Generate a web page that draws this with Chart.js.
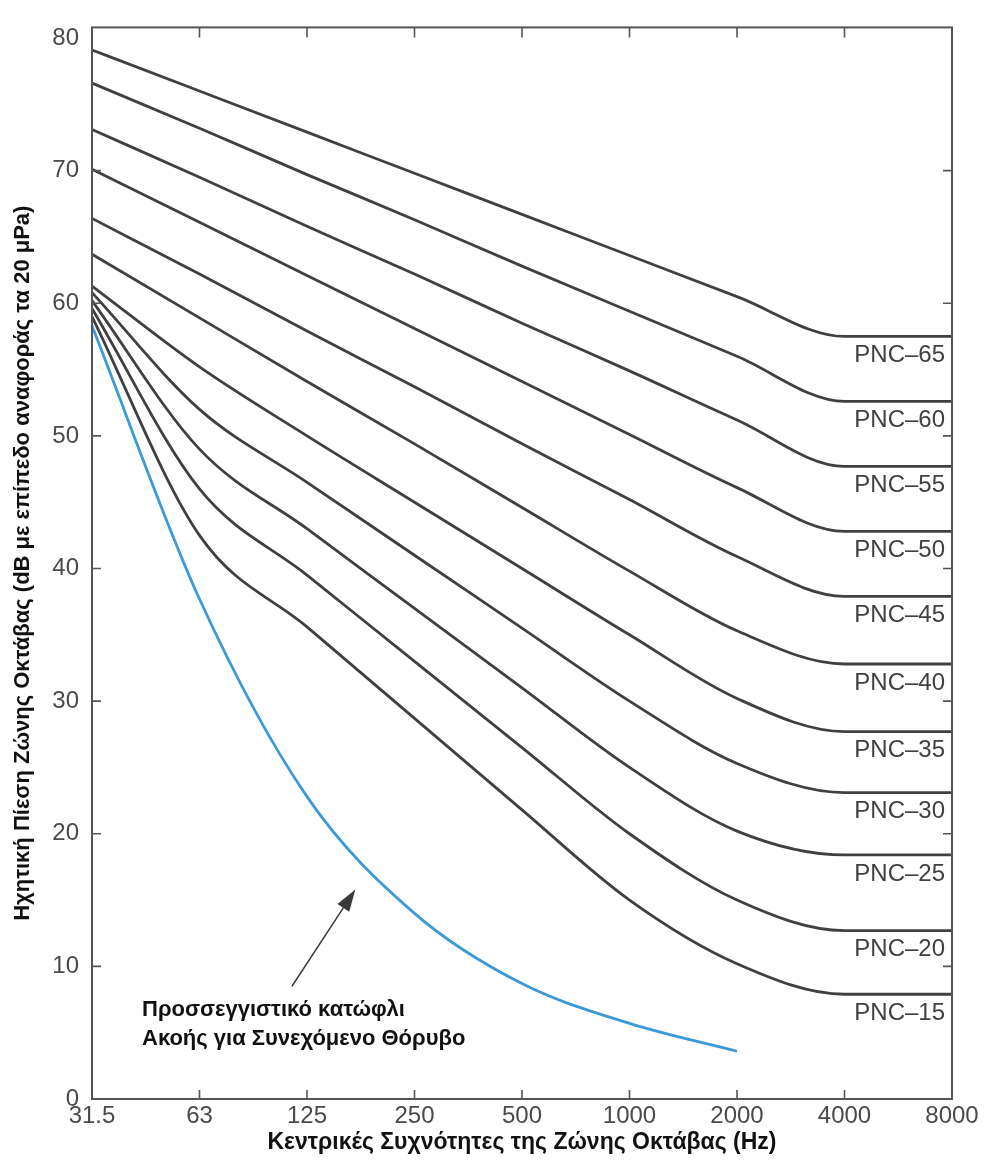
<!DOCTYPE html>
<html>
<head>
<meta charset="utf-8">
<script src="https://cdn.jsdelivr.net/npm/chart.js@4.4.1/dist/chart.umd.min.js"></script>
<style>
  html, body { margin: 0; padding: 0; background: #fff; }
  #wrap { width: 987px; height: 1160px; position: relative; }
</style>
</head>
<body>
<div id="wrap"><canvas id="pncChart"></canvas></div>
<script>
// Κεντρικές συχνότητες ζώνης οκτάβας (Hz)
const freqLabels = ['31.5', '63', '125', '250', '500', '1000', '2000', '4000', '8000'];

// Καμπύλες PNC (dB), τιμές από το διάγραμμα
const pnc65 = [79.1, 76.0, 72.9, 69.8, 66.7, 63.6, 60.5, 57.5, 57.5];
const pnc60 = [76.6, 73.2, 69.7, 66.3, 62.8, 59.4, 56.0, 52.6, 52.6];
const pnc55 = [73.1, 69.5, 65.8, 62.2, 58.5, 54.9, 51.2, 47.7, 47.7];
const pnc50 = [70.1, 66.1, 62.1, 58.1, 54.1, 50.1, 46.1, 42.8, 42.8];
const pnc45 = [66.4, 62.2, 57.9, 53.7, 49.4, 45.2, 40.9, 37.9, 37.9];
const pnc40 = [63.7, 58.9, 54.1, 49.4, 44.6, 39.8, 35.3, 32.8, 32.8];
const pnc35 = [61.3, 55.2, 50.0, 45.0, 40.0, 35.0, 30.2, 27.7, 27.7];
const pnc30 = [60.8, 52.0, 46.5, 41.0, 35.5, 30.0, 25.3, 23.1, 23.1];
const pnc25 = [60.2, 49.0, 43.0, 37.0, 31.0, 25.0, 20.2, 18.4, 18.4];
const pnc20 = [59.6, 46.0, 39.5, 33.0, 26.5, 20.0, 15.0, 12.7, 12.7];
const pnc15 = [59.0, 42.5, 35.6, 28.7, 21.8, 15.0, 10.2, 7.9, 7.9];

// Προσεγγιστικό κατώφλι ακοής (μπλε καμπύλη, σταματά στα 2000 Hz)
const threshold = [58.3, 37.7, 22.8, 14.0, 8.7, 5.7, 3.6, null, null];

const pncNames = ['PNC–65', 'PNC–60', 'PNC–55', 'PNC–50', 'PNC–45', 'PNC–40',
                  'PNC–35', 'PNC–30', 'PNC–25', 'PNC–20', 'PNC–15'];
const pncSeries = [pnc65, pnc60, pnc55, pnc50, pnc45, pnc40, pnc35, pnc30, pnc25, pnc20, pnc15];

const yTickValues = [0, 10, 20, 30, 40, 50, 60, 70, 80];

const noteLines = ['Προσσεγγιστικό κατώφλι', 'Ακοής για Συνεχόμενο Θόρυβο'];

const FONT = '"Liberation Sans", Arial, sans-serif';
const GRAY = '#404040';
const BLUE = '#3c9ad9';
const AXIS = '#555555';
const TICK_TXT = '#4a4a4a';

// Πλαίσιο με εσωτερικές υποδιαιρέσεις, ετικέτες PNC και βέλος σχολίου
const decorPlugin = {
    id: 'decor',
    afterDraw(chart) {
        const ctx = chart.ctx;
        const a = chart.chartArea;
        const xs = chart.scales.x;
        const ys = chart.scales.y;

        ctx.save();
        ctx.strokeStyle = AXIS;
        ctx.lineWidth = 2;
        ctx.strokeRect(a.left, a.top, a.right - a.left, a.bottom - a.top);

        // υποδιαιρέσεις προς τα μέσα
        ctx.lineWidth = 1.6;
        ctx.beginPath();
        yTickValues.slice(1, -1).forEach(v => {
            const py = ys.getPixelForValue(v);
            ctx.moveTo(a.left, py); ctx.lineTo(a.left + 9, py);
            ctx.moveTo(a.right, py); ctx.lineTo(a.right - 9, py);
        });
        freqLabels.forEach((f, i) => {
            if (i === 0 || i === freqLabels.length - 1) return;
            const px = xs.getPixelForValue(i);
            ctx.moveTo(px, a.bottom); ctx.lineTo(px, a.bottom - 9);
            ctx.moveTo(px, a.top); ctx.lineTo(px, a.top + 10);
        });
        ctx.stroke();

        // ετικέτες PNC κάτω από το οριζόντιο τμήμα κάθε καμπύλης
        ctx.fillStyle = GRAY;
        ctx.font = '24px ' + FONT;
        ctx.textAlign = 'right';
        ctx.textBaseline = 'middle';
        const last = freqLabels.length - 1;
        pncSeries.forEach((s, i) => {
            const py = ys.getPixelForValue(s[last]);
            ctx.fillText(pncNames[i], a.right - 7, py + 19);
        });

        // σχόλιο για το κατώφλι ακοής
        ctx.fillStyle = '#111';
        ctx.font = 'bold 22px ' + FONT;
        ctx.textAlign = 'left';
        const tx = xs.getPixelForValue(0.465);
        const ty = ys.getPixelForValue(6.7);
        noteLines.forEach((t, k) => ctx.fillText(t, tx, ty + k * 29));

        // βέλος
        const x0 = xs.getPixelForValue(1.86), y0 = ys.getPixelForValue(8.5);
        const x1 = xs.getPixelForValue(2.45), y1 = ys.getPixelForValue(15.8);
        const ang = Math.atan2(y1 - y0, x1 - x0);
        const headLen = 22, headW = 7;
        const bx = x1 - headLen * Math.cos(ang), by = y1 - headLen * Math.sin(ang);
        ctx.strokeStyle = '#3a3a3a';
        ctx.lineWidth = 1.5;
        ctx.beginPath();
        ctx.moveTo(x0, y0);
        ctx.lineTo(bx, by);
        ctx.stroke();
        ctx.fillStyle = '#3a3a3a';
        ctx.beginPath();
        ctx.moveTo(x1, y1);
        ctx.lineTo(bx + headW * Math.sin(ang), by - headW * Math.cos(ang));
        ctx.lineTo(bx - headW * Math.sin(ang), by + headW * Math.cos(ang));
        ctx.closePath();
        ctx.fill();
        ctx.restore();
    }
};

const datasets = pncSeries.map((s, i) => ({
    label: pncNames[i],
    data: s,
    borderColor: GRAY,
    borderWidth: 2.8,
    pointRadius: 0,
    fill: false,
    cubicInterpolationMode: 'monotone'
}));
datasets.push({
    label: 'Κατώφλι ακοής',
    data: threshold,
    borderColor: BLUE,
    borderWidth: 2.8,
    pointRadius: 0,
    fill: false,
    spanGaps: false,
    cubicInterpolationMode: 'monotone'
});

new Chart(document.getElementById('pncChart'), {
    type: 'line',
    data: { labels: freqLabels, datasets: datasets },
    options: {
        responsive: true,
        maintainAspectRatio: false,
        animation: false,
        layout: { padding: { top: 21, right: 35, left: 0, bottom: 0 } },
        plugins: {
            legend: { display: false },
            tooltip: { enabled: false }
        },
        scales: {
            x: {
                offset: false,
                grid: { display: false, drawTicks: false },
                border: { display: false },
                ticks: {
                    color: TICK_TXT,
                    font: { family: FONT, size: 24 },
                    padding: 3,
                    maxRotation: 0,
                    autoSkip: false
                },
                title: {
                    display: true,
                    text: 'Κεντρικές Συχνότητες της Ζώνης Οκτάβας (Hz)',
                    color: '#111',
                    font: { family: FONT, size: 23, weight: 'bold' },
                    padding: { top: 0, bottom: 4 }
                },
                afterFit: s => { s.height = 61; }
            },
            y: {
                min: 0,
                max: 80.8,
                grid: { display: false, drawTicks: false },
                border: { display: false },
                afterBuildTicks: s => { s.ticks = yTickValues.map(v => ({ value: v })); },
                ticks: {
                    color: TICK_TXT,
                    font: { family: FONT, size: 24 },
                    padding: 13
                },
                title: {
                    display: true,
                    text: 'Ηχητική Πίεση Ζώνης Οκτάβας (dB με επίπεδο αναφοράς τα 20 μPa)',
                    color: '#111',
                    font: { family: FONT, size: 22, weight: 'bold' },
                    padding: { top: 10, bottom: 0 }
                },
                afterFit: s => { s.width = 92; }
            }
        }
    },
    plugins: [decorPlugin]
});
</script>
</body>
</html>
